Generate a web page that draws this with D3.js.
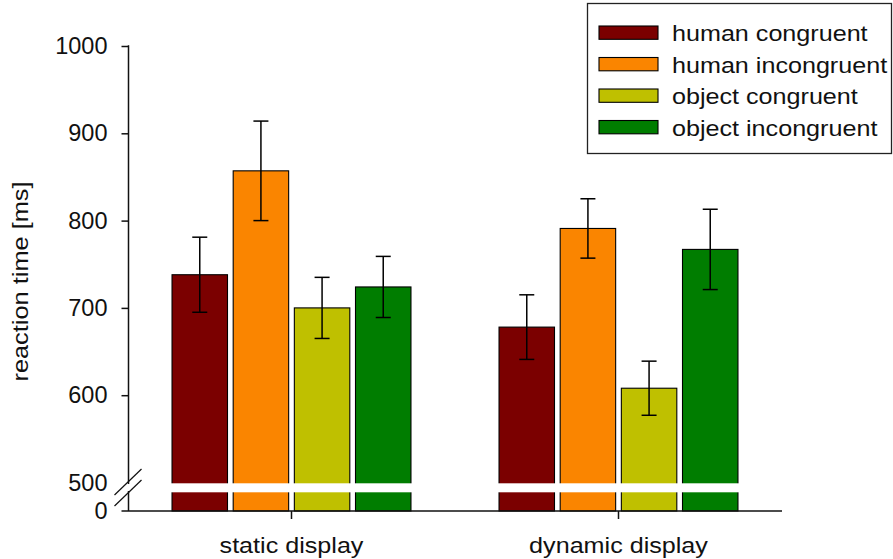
<!DOCTYPE html>
<html>
<head>
<meta charset="utf-8">
<script src="https://cdn.jsdelivr.net/npm/d3@7"></script>
<style>
  html, body { margin: 0; padding: 0; background: #fff; }
  svg { display: block; font-family: "Liberation Sans", Arial, sans-serif; }
</style>
</head>
<body>
<svg id="chart" width="893" height="559"></svg>
<script>
// Reaction times (ms) per display type and condition, with error bars
const displays = ["static display", "dynamic display"];
const conditions = ["human congruent", "human incongruent", "object congruent", "object incongruent"];
const colors = ["#7b0000", "#fa8500", "#bfc000", "#007d00"];
const meanStatic = [738, 857, 700, 724];
const meanDynamic = [678, 791, 608, 767];
const errStatic = [43, 57, 35, 35];
const errDynamic = [37, 34, 31, 46];
const yTicks = [500, 600, 700, 800, 900, 1000];

const means = [meanStatic, meanDynamic];
const errs = [errStatic, errDynamic];

const svg = d3.select("#chart");
const ink = "#111";

// Upper (broken) value scale and the short stub below the break down to zero
const y = d3.scaleLinear().domain([500, 1000]).range([482.5, 46]);
const yLow = d3.scaleLinear().domain([0, 500]).range([511, 482.5]);
const baseY = yLow(0);

const x0 = d3.scaleBand().domain(displays).range([128, 782]).padding(0);
const x1 = d3.scaleBand().domain(conditions).range([0, x0.bandwidth()])
  .paddingInner(0.093).paddingOuter(0.72);

const rows = [];
displays.forEach((d, i) => {
  conditions.forEach((c, j) => {
    rows.push({ display: d, cond: c, color: colors[j], mean: means[i][j], err: errs[i][j] });
  });
});

// Bars
svg.append("g").selectAll("rect").data(rows).join("rect")
  .attr("x", d => x0(d.display) + x1(d.cond))
  .attr("y", d => y(d.mean))
  .attr("width", x1.bandwidth())
  .attr("height", d => baseY - y(d.mean))
  .attr("fill", d => d.color)
  .attr("stroke", "#000")
  .attr("stroke-width", 1.1);

// White band marking the axis break across the bars
const breakTop = y(500) + 0.8, breakBottom = y(500) + 9.8;
displays.forEach(d => {
  svg.append("rect")
    .attr("x", x0(d) + x1(conditions[0]) - 3)
    .attr("y", breakTop)
    .attr("width", x1(conditions[3]) + x1.bandwidth() - x1(conditions[0]) + 6)
    .attr("height", breakBottom - breakTop)
    .attr("fill", "#fff");
});

// Error bars
const capHalf = 7.5;
const eb = svg.append("g").attr("stroke", "#000").attr("stroke-width", 1.5).attr("fill", "none");
rows.forEach(d => {
  const cx = x0(d.display) + x1(d.cond) + x1.bandwidth() / 2;
  const t = y(d.mean + d.err), b = y(d.mean - d.err);
  eb.append("line").attr("x1", cx).attr("x2", cx).attr("y1", t).attr("y2", b);
  eb.append("line").attr("x1", cx - capHalf).attr("x2", cx + capHalf).attr("y1", t).attr("y2", t);
  eb.append("line").attr("x1", cx - capHalf).attr("x2", cx + capHalf).attr("y1", b).attr("y2", b);
});

// Y axis with tick labels; the line itself is drawn in two pieces around the break
const axisX = 128.5;
const yAxis = svg.append("g")
  .attr("transform", `translate(${axisX},0)`)
  .call(d3.axisLeft(y).tickValues(yTicks).tickSize(7).tickPadding(14).tickFormat(d3.format("d")));
yAxis.select(".domain").remove();
yAxis.selectAll(".tick line").attr("stroke", ink).attr("stroke-width", 1.5)
  .filter(d => d === 500).remove();
yAxis.selectAll(".tick text").attr("font-size", 23.5).attr("fill", ink)
  .attr("font-family", "Liberation Sans, Arial, sans-serif");

// Zero label below the break
svg.append("text")
  .attr("x", axisX - 21).attr("y", baseY).attr("dy", "0.36em")
  .attr("text-anchor", "end").attr("font-size", 23.5).attr("fill", ink)
  .text(d3.format("d")(yLow.domain()[0]));

svg.append("line").attr("x1", axisX).attr("x2", axisX)
  .attr("y1", y(1000) - 0.75).attr("y2", y(500) + 1.5)
  .attr("stroke", ink).attr("stroke-width", 1.5);
svg.append("line").attr("x1", axisX).attr("x2", axisX)
  .attr("y1", y(500) + 8.5).attr("y2", baseY)
  .attr("stroke", ink).attr("stroke-width", 1.5);

// Break marks
[y(500) - 0.5, y(500) + 10.5].forEach(cy => {
  svg.append("line")
    .attr("x1", axisX - 14).attr("y1", cy + 13)
    .attr("x2", axisX + 13).attr("y2", cy - 13)
    .attr("stroke", ink).attr("stroke-width", 1.2);
});

// X axis baseline with category ticks
svg.append("line").attr("x1", axisX - 7).attr("x2", x0.range()[1])
  .attr("y1", baseY).attr("y2", baseY)
  .attr("stroke", ink).attr("stroke-width", 1.5);
const xAxis = svg.append("g").attr("transform", `translate(0,${baseY})`)
  .call(d3.axisBottom(x0).tickSize(8).tickPadding(0));
xAxis.select(".domain").remove();
xAxis.selectAll(".tick line").attr("stroke", ink).attr("stroke-width", 1.5);
xAxis.selectAll(".tick text").remove();

// Category labels
const labelScale = 1.17;
svg.append("g").selectAll("text").data(displays).join("text")
  .attr("transform", d => `translate(${x0(d) + x0.bandwidth() / 2},553) scale(${labelScale},1)`)
  .attr("text-anchor", "middle").attr("font-size", 21.5).attr("fill", ink)
  .text(d => d);

// Y axis title
svg.append("text")
  .attr("transform", `translate(28,${(y(1000) + baseY) / 2 + 3}) rotate(-90) scale(1.18,1)`)
  .attr("text-anchor", "middle").attr("font-size", 21.5).attr("fill", ink)
  .text("reaction time [ms]");

// Legend
const legend = svg.append("g");
legend.append("rect").attr("x", 587.5).attr("y", 3.5).attr("width", 304).attr("height", 150)
  .attr("fill", "#fff").attr("stroke", "#222").attr("stroke-width", 1.3);
const li = legend.selectAll("g.item").data(conditions).join("g")
  .attr("class", "item")
  .attr("transform", (d, i) => `translate(599,${26 + i * 31.5})`);
li.append("rect").attr("width", 59).attr("height", 13.3)
  .attr("fill", (d, i) => colors[i]).attr("stroke", "#000").attr("stroke-width", 1.1);
li.append("text")
  .attr("transform", `translate(73,15) scale(1.17,1)`)
  .attr("font-size", 21.5).attr("fill", ink)
  .text(d => d);
</script>
</body>
</html>
